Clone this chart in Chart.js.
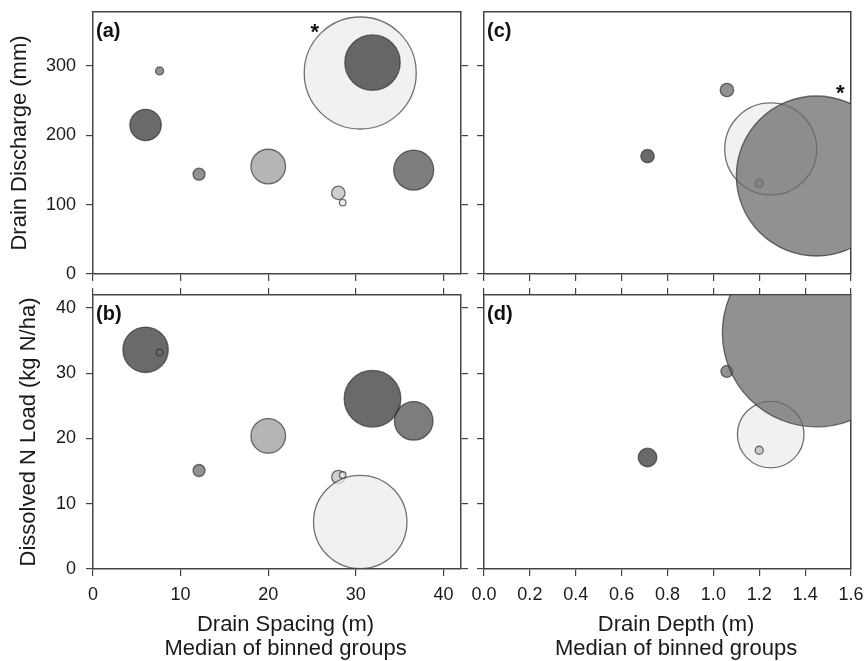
<!DOCTYPE html>
<html><head><meta charset="utf-8">
<script src="https://cdn.jsdelivr.net/npm/chart.js@4.4.0/dist/chart.umd.min.js"></script>
<style>
html,body{margin:0;padding:0;background:#fff;}
#wrap{position:relative;width:865px;height:661px;overflow:hidden;background:#fff;}
canvas{position:absolute;}
</style></head><body>
<div id="wrap">
<canvas id="ca"></canvas>
<canvas id="cb"></canvas>
<canvas id="cc"></canvas>
<canvas id="cd"></canvas>
</div>
<script>
// ---- data ----
const spacing          = [6.0, 7.6, 12.1, 20.0, 28.0, 28.5, 30.5, 31.9, 36.6];   // Drain spacing (m)
const dischargeBySpace = [215, 293, 144, 155, 117, 103, 290, 305, 150];          // Drain discharge (mm)
const loadBySpace      = [33.6, 33.2, 15.1, 20.4, 14.1, 14.4, 7.2, 26.1, 22.7];  // Dissolved N load (kg N/ha)
const sizeA            = [15.7, 4.0, 6.0, 17.3, 6.7, 3.3, 56, 27.7, 20];         // bubble size, panel a
const sizeB            = [22.7, 3.3, 6.0, 17.3, 6.7, 3.3, 46.7, 28.3, 19.3];     // bubble size, panel b
const groupSpace       = ['dark','mid','mid','light','light2','pale','pale','dark','midDark'];

const depth            = [0.713, 1.059, 1.25, 1.2, 1.449];                       // Drain depth (m)
const dischargeByDepth = [170, 265.5, 180.4, 131, 141.4];
const loadByDepth      = [17.1, 30.3, 20.6, 18.2, 36.2];
const sizeC            = [6.7, 6.7, 46, 4.0, 80];
const sizeD            = [9.3, 6.0, 33.3, 4.0, 94];
const groupDepth       = ['dark','mid','pale','light2','mid'];

const ticksSpacing  = [0, 10, 20, 30, 40];
const ticksDepth    = [0, 0.2, 0.4, 0.6, 0.8, 1.0, 1.2, 1.4, 1.6];
const ticksDischarge= [0, 100, 200, 300];
const ticksLoad     = [0, 10, 20, 30, 40];

const starA = [25.3, 357];   // asterisk, panel a (data units)
const starC = [1.553, 268];  // asterisk, panel c (data units)

// ---- styles ----
const FONT = '"Liberation Sans", Arial, Helvetica, sans-serif';
Chart.defaults.font.family = FONT;
const shade = {
  dark:    'rgba(56,56,56,0.75)',
  midDark: 'rgba(82,82,82,0.75)',
  mid:     'rgba(108,108,108,0.75)',
  light:   'rgba(156,156,156,0.75)',
  light2:  'rgba(191,191,191,0.75)',
  pale:    'rgba(236,236,236,0.75)'
};
const AXIS_COLOR = '#444';

function axis(pos, o) {
  const vertical = (pos === 'left' || pos === 'right');
  return {
    type: 'linear', position: pos, min: o.min, max: o.max, z: 1,
    afterBuildTicks: s => { s.ticks = o.ticks.map(v => ({value: v})); },
    afterFit: s => {
      if (vertical) s.width = o.size; else s.height = o.size;
      s.paddingTop = 0; s.paddingBottom = 0; s.paddingLeft = 0; s.paddingRight = 0;
    },
    grid: { drawOnChartArea: false, drawTicks: !!o.marks, tickLength: o.marks ? 7 : 0,
            color: AXIS_COLOR, lineWidth: 1.2 },
    border: { display: true, color: AXIS_COLOR, width: 1.5 },
    ticks: { display: !!o.labels, padding: vertical ? 10 : 8, color: '#1a1a1a',
             font: { size: 18 }, callback: o.fmt || (v => v) },
    title: o.title ? { display: true, text: o.title, color: '#1a1a1a',
             font: { size: 22, lineHeight: 1.08 }, padding: o.titlePad || 0 } : { display: false }
  };
}

const annot = {
  id: 'annot',
  afterDraw(chart, args, opts) {
    const {ctx, chartArea: a, scales} = chart;
    ctx.save();
    ctx.fillStyle = '#111';
    ctx.textBaseline = 'alphabetic';
    ctx.textAlign = 'left';
    ctx.font = 'bold 20px ' + FONT;
    ctx.fillText(opts.label, a.left + 3, a.top + 25);
    if (opts.star) {
      ctx.font = 'bold 22px ' + FONT;
      ctx.textAlign = 'center';
      const x = scales.x.getPixelForValue(opts.star[0]);
      const y = scales.y.getPixelForValue(opts.star[1]);
      ctx.fillText('*', x, y + 12);
    }
    ctx.restore();
  }
};

function makePanel(id, box, xs, ys, sizes, groups, xAxes, yAxes, label, star) {
  const cv = document.getElementById(id);
  cv.width = box.w; cv.height = box.h;
  cv.style.left = box.x + 'px'; cv.style.top = box.y + 'px';
  cv.style.width = box.w + 'px'; cv.style.height = box.h + 'px';
  const pts = xs.map((x, i) => ({x: x, y: ys[i], r: sizes[i]}));
  new Chart(cv, {
    type: 'bubble',
    data: { datasets: [{
      data: pts,
      backgroundColor: groups.map(g => shade[g]),
      borderColor: 'rgba(40,40,40,0.65)',
      borderWidth: 1.3,
      clip: 0
    }]},
    options: {
      responsive: false, animation: false, devicePixelRatio: 1, events: [],
      layout: { autoPadding: false, padding: 0 },
      plugins: { legend: { display: false }, tooltip: { enabled: false },
                 annot: { label: label, star: star } },
      scales: { x: xAxes.x, x2: xAxes.x2, y: yAxes.y, y2: yAxes.y2 }
    },
    plugins: [annot]
  });
}

const fmtDepth = v => Number(v).toFixed(1);
const xTitleSpacing = ['\u2002 Drain Spacing (m)', '\u2002 Median of binned groups'];
const xTitleDepth   = ['\u2002 Drain Depth (m)', '\u2002 Median of binned groups'];

// Panel (a)
makePanel('ca', {x: 0, y: 0, w: 470, h: 285}, spacing, dischargeBySpace, sizeA, groupSpace,
  { x:  axis('bottom', {min: 0, max: 42, ticks: ticksSpacing, size: 11, marks: true}),
    x2: axis('top',    {min: 0, max: 42, ticks: ticksSpacing, size: 12, marks: false}) },
  { y:  axis('left',   {min: 0, max: 378, ticks: ticksDischarge, size: 93, marks: true, labels: true,
                        title: 'Drain Discharge (mm)', titlePad: {top: 8, bottom: 0}}),
    y2: axis('right',  {min: 0, max: 378, ticks: ticksDischarge, size: 9, marks: true}) },
  '(a)', starA);

// Panel (b)
makePanel('cb', {x: 0, y: 285, w: 470, h: 376}, spacing, loadBySpace, sizeB, groupSpace,
  { x:  axis('bottom', {min: 0, max: 42, ticks: ticksSpacing, size: 92, marks: true, labels: true,
                        title: xTitleSpacing, titlePad: {top: 0, bottom: 0}}),
    x2: axis('top',    {min: 0, max: 42, ticks: ticksSpacing, size: 10, marks: true}) },
  { y:  axis('left',   {min: 0, max: 42, ticks: ticksLoad, size: 93, marks: true, labels: true,
                        title: 'Dissolved N Load (kg N/ha)', titlePad: {top: 17, bottom: 0}}),
    y2: axis('right',  {min: 0, max: 42, ticks: ticksLoad, size: 9, marks: true}) },
  '(b)', null);

// Panel (c)
makePanel('cc', {x: 470, y: 0, w: 395, h: 285}, depth, dischargeByDepth, sizeC, groupDepth,
  { x:  axis('bottom', {min: 0, max: 1.6, ticks: ticksDepth, size: 11, marks: true}),
    x2: axis('top',    {min: 0, max: 1.6, ticks: ticksDepth, size: 12, marks: false}) },
  { y:  axis('left',   {min: 0, max: 378, ticks: ticksDischarge, size: 14, marks: true}),
    y2: axis('right',  {min: 0, max: 378, ticks: ticksDischarge, size: 14, marks: false}) },
  '(c)', starC);

// Panel (d)
makePanel('cd', {x: 470, y: 285, w: 395, h: 376}, depth, loadByDepth, sizeD, groupDepth,
  { x:  axis('bottom', {min: 0, max: 1.6, ticks: ticksDepth, size: 92, marks: true, labels: true,
                        fmt: fmtDepth, title: xTitleDepth, titlePad: {top: 0, bottom: 0}}),
    x2: axis('top',    {min: 0, max: 1.6, ticks: ticksDepth, size: 10, marks: true}) },
  { y:  axis('left',   {min: 0, max: 42, ticks: ticksLoad, size: 14, marks: true}),
    y2: axis('right',  {min: 0, max: 42, ticks: ticksLoad, size: 14, marks: false}) },
  '(d)', null);
</script>
</body></html>
